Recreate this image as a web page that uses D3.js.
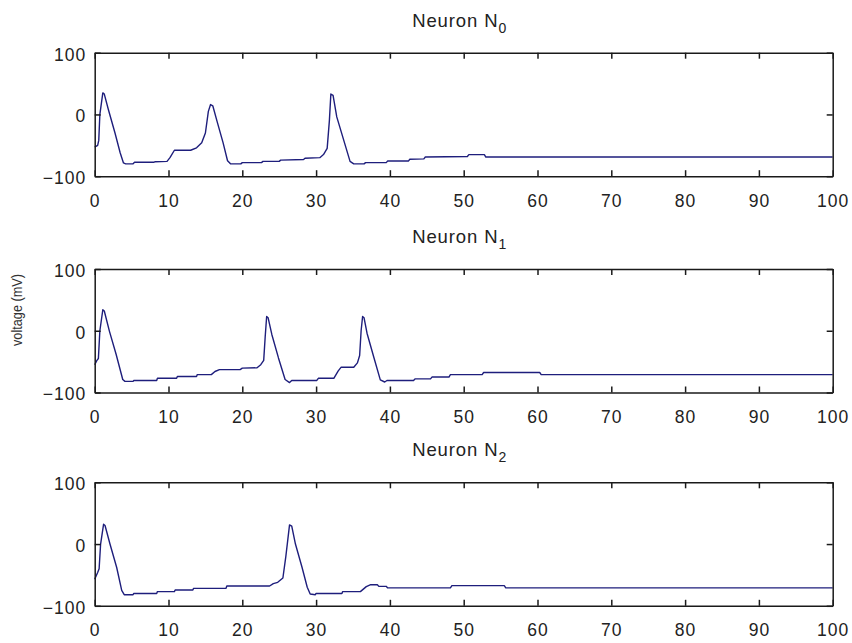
<!DOCTYPE html>
<html>
<head>
<meta charset="utf-8">
<script src="https://cdn.jsdelivr.net/npm/d3@7"></script>
<style>
  body { margin: 0; background: #fff; }
  svg { display: block; font-family: 'Liberation Sans', Arial, sans-serif; }
</style>
</head>
<body>
<svg></svg>
<script>
// Data (time in ms, voltage in mV)
const n0Time = [0, 0.4, 0.55, 0.7, 1.1, 1.3, 1.85, 2.75, 3.45, 3.9, 4.2, 5.2, 5.4, 8.0, 8.2, 9.8, 10.2, 10.8, 13.0, 13.8, 14.5, 15.0, 15.4, 15.7, 16.0, 16.6, 17.4, 18.0, 18.4, 19.8, 20.0, 22.6, 22.8, 25.0, 25.2, 28.3, 28.5, 30.5, 31.0, 31.5, 31.8, 32.0, 32.3, 32.8, 33.7, 34.6, 35.1, 36.5, 36.7, 39.5, 39.7, 42.5, 42.7, 44.6, 44.8, 50.5, 50.7, 52.8, 53.0, 100]
const n0Volt = [-53, -50, -42, 0, 35, 33, 8, -30, -62, -78.5, -80, -80, -77.5, -77.5, -76.5, -76, -70, -58, -58, -54, -46, -30, 5, 16, 14, -12, -46, -75, -80, -80, -78, -78, -76, -76, -74, -73, -71, -70, -65, -55, -10, 33, 31, -4, -40, -76, -80, -80, -78, -78, -75.5, -75.5, -72.5, -72, -69, -68, -65, -65, -69, -69]

const n1Time = [0, 0.3, 0.5, 0.7, 1.1, 1.3, 2.0, 2.9, 3.8, 4.1, 5.2, 5.3, 8.4, 8.5, 11.1, 11.2, 13.8, 13.9, 15.8, 16.3, 16.9, 19.7, 20.0, 22.0, 22.5, 22.9, 23.1, 23.3, 23.5, 24.0, 24.9, 25.8, 26.4, 26.7, 30.1, 30.3, 32.4, 33.0, 33.4, 35.1, 35.6, 35.9, 36.1, 36.3, 36.5, 36.9, 37.8, 38.7, 39.3, 39.6, 43.2, 43.4, 45.5, 45.7, 48.0, 48.2, 52.5, 52.7, 60.3, 60.5, 100]
const n1Volt = [-55, -48, -45, 0, 34, 32, -1, -38, -79, -82, -82, -80.5, -80.5, -77, -77, -74, -74, -71, -71, -66, -63, -63, -60.5, -60, -55, -48, -10, 23, 21, -6, -44, -79, -84, -80.5, -80.5, -77, -77, -65, -59, -59, -52, -40, 0, 23, 21, -4, -42, -79.5, -83, -80.5, -80.5, -78, -78, -75, -75, -71, -71, -67.6, -67.6, -71, -71]

const n2Time = [0, 0.4, 0.6, 0.8, 1.2, 1.4, 2.07, 2.98, 3.66, 4.0, 5.2, 5.3, 8.4, 8.5, 10.8, 10.9, 13.3, 13.4, 17.8, 17.9, 23.7, 24.2, 24.8, 25.5, 25.9, 26.4, 26.7, 27.2, 28.1, 28.8, 29.2, 29.9, 30.0, 33.5, 33.6, 36.0, 36.8, 37.4, 38.3, 38.5, 39.5, 39.7, 48.2, 48.4, 55.5, 55.7, 100]
const n2Volt = [-57, -46, -40, 0, 32, 30, 0, -38, -75, -82, -82, -80, -80, -77, -77, -74.4, -74.4, -71.7, -71.7, -68, -68, -64, -62, -55, -20, 31, 29, 0, -38, -70, -81, -82, -80, -80, -77, -77, -69, -65.8, -65.8, -68.5, -68.5, -71, -71, -67.4, -67.4, -71, -71]

const titles = ['0', '1', '2']
const xTicks = [0, 10, 20, 30, 40, 50, 60, 70, 80, 90, 100]
const yTicks = [-100, 0, 100]
const yLabel = 'voltage (mV)'

const svg = d3.select('svg')
const width = 852
const height = 643
svg.attr('width', width).attr('height', height)

const left = 94.7
const right = 832.7
const panelTops = [52.7, 269, 482.3]
const panelHeight = 123.5

const xScale = d3.scaleLinear().domain([0, 100]).range([left, right])

const drawPanel = (times, volts, top, sub) => {
    const yScale = d3.scaleLinear().domain([-100, 100]).range([top + panelHeight, top])
    const g = svg.append('g')

    const line = d3.line()
                    .x((d) => xScale(d[0]))
                    .y((d) => yScale(d[1]))
    g.append('path')
        .datum(times.map((t, i) => [t, volts[i]]))
        .attr('d', line)
        .attr('fill', 'none')
        .attr('stroke', '#1e1e7c')
        .attr('stroke-width', 1.4)
        .attr('stroke-linejoin', 'round')

    const bottomAxis = g.append('g')
        .attr('transform', 'translate(0,' + (top + panelHeight) + ')')
        .call(d3.axisBottom(xScale).tickValues(xTicks).tickSizeInner(-6).tickSizeOuter(0))
    bottomAxis.selectAll('text')
        .attr('y', 30.5)
        .attr('dy', 0)

    g.append('g')
        .attr('transform', 'translate(0,' + top + ')')
        .call(d3.axisTop(xScale).tickValues(xTicks).tickSizeInner(-6).tickSizeOuter(0).tickFormat(''))

    const leftAxis = g.append('g')
        .attr('transform', 'translate(' + left + ',0)')
        .call(d3.axisLeft(yScale).tickValues(yTicks).tickSizeInner(-6).tickSizeOuter(0))
    leftAxis.selectAll('text')
        .attr('x', -8.5)
        .attr('dy', '0.42em')

    g.append('g')
        .attr('transform', 'translate(' + right + ',0)')
        .call(d3.axisRight(yScale).tickValues(yTicks).tickSizeInner(-6).tickSizeOuter(0).tickFormat(''))

    g.selectAll('.domain, .tick line')
        .attr('stroke', '#1a1a1a')
        .attr('stroke-width', 1.5)
    g.selectAll('.tick text')
        .attr('fill', '#222')
        .style('font-size', '17.5px')
        .style('letter-spacing', '1px')
        .style('font-family', "'Liberation Sans', Arial, sans-serif")

    const title = g.append('text')
        .attr('x', (left + right) / 2 - 4)
        .attr('y', top - 26)
        .attr('text-anchor', 'middle')
        .attr('fill', '#222')
        .style('font-size', '18.5px')
        .style('letter-spacing', '0.9px')
    title.append('tspan').text('Neuron N')
    title.append('tspan')
        .attr('dy', 6)
        .style('font-size', '14px')
        .text(sub)
}

drawPanel(n0Time, n0Volt, panelTops[0], titles[0])
drawPanel(n1Time, n1Volt, panelTops[1], titles[1])
drawPanel(n2Time, n2Volt, panelTops[2], titles[2])

// ylabel, squeezed along its length like the original
svg.append('text')
    .attr('transform', 'translate(22,310) rotate(-90) scale(0.82,1)')
    .attr('text-anchor', 'middle')
    .attr('fill', '#333')
    .style('font-size', '15.5px')
    .text(yLabel)
</script>
</body>
</html>
